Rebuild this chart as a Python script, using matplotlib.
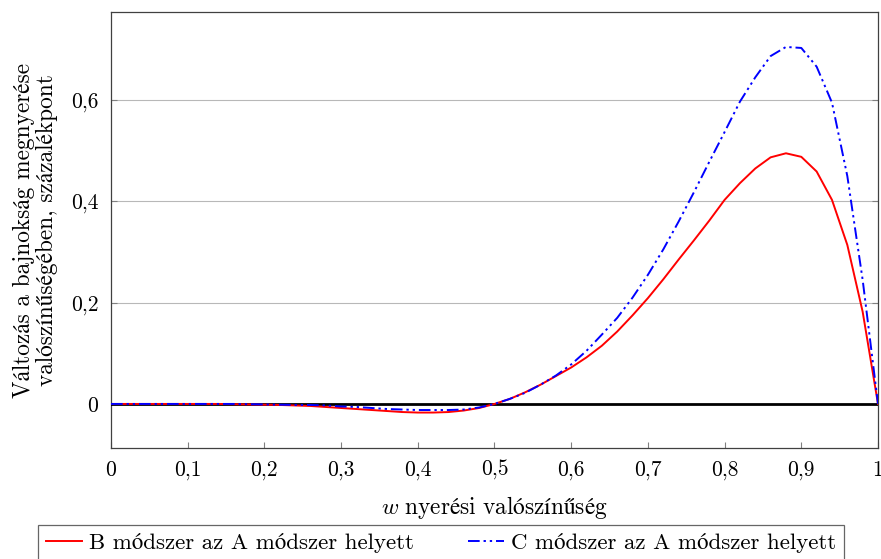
import matplotlib
matplotlib.use("Agg")
import matplotlib.pyplot as plt
from matplotlib.ticker import FixedLocator, FuncFormatter

plt.rcParams['font.family'] = ['cmr10', 'STIXGeneral']
plt.rcParams['mathtext.fontset'] = 'cm'
plt.rcParams['axes.unicode_minus'] = False

w = [0.00, 0.02, 0.04, 0.06, 0.08, 0.10, 0.12, 0.14, 0.16, 0.18,
     0.20, 0.22, 0.24, 0.26, 0.28, 0.30, 0.32, 0.34, 0.36, 0.38,
     0.40, 0.42, 0.44, 0.46, 0.48, 0.50, 0.52, 0.54, 0.56, 0.58,
     0.60, 0.62, 0.64, 0.66, 0.68, 0.70, 0.72, 0.74, 0.76, 0.78,
     0.80, 0.82, 0.84, 0.86, 0.88, 0.90, 0.92, 0.94, 0.96, 0.98, 1.00]

b_vs_a = [0.0, 0.0, 0.0, 0.0, 0.0, 0.0, 0.0, 0.0, -0.0005, -0.001,
          -0.0015, -0.002, -0.003, -0.004, -0.006, -0.008, -0.010, -0.012, -0.014, -0.016,
          -0.017, -0.017, -0.016, -0.013, -0.008, 0.0, 0.010, 0.023, 0.038, 0.055,
          0.072, 0.092, 0.115, 0.143, 0.175, 0.209, 0.246, 0.285, 0.323, 0.362,
          0.403, 0.436, 0.465, 0.487, 0.495, 0.488, 0.459, 0.403, 0.314, 0.182, 0.0]

c_vs_a = [0.0, 0.0, 0.0, 0.0, 0.0, 0.0, 0.0, 0.0, 0.0, -0.0005,
          -0.001, -0.0015, -0.002, -0.002, -0.003, -0.005, -0.006, -0.008, -0.010, -0.011,
          -0.012, -0.012, -0.012, -0.011, -0.007, 0.0, 0.010, 0.022, 0.038, 0.056,
          0.078, 0.105, 0.137, 0.170, 0.210, 0.255, 0.305, 0.360, 0.418, 0.478,
          0.537, 0.597, 0.645, 0.687, 0.705, 0.703, 0.666, 0.595, 0.450, 0.245, 0.0]

xticks = [0, 0.1, 0.2, 0.3, 0.4, 0.5, 0.6, 0.7, 0.8, 0.9, 1]
yticks = [0, 0.2, 0.4, 0.6]

labels = ['B módszer az A módszer helyett', 'C módszer az A módszer helyett']


def fmt(v, pos):
    if abs(v) < 1e-9:
        return '0'
    if abs(v - 1) < 1e-9:
        return '1'
    return ('%.1f' % v).replace('.', ',')


fig = plt.figure(figsize=(8.81, 5.59), dpi=100)
ax = fig.add_axes([111 / 881, 1 - 448 / 559, 767 / 881, 436 / 559])

ax.set_xlim(0, 1)
ax.set_ylim(-0.087, 0.774)

ax.yaxis.set_major_locator(FixedLocator(yticks))
ax.xaxis.set_major_locator(FixedLocator(xticks))
ax.xaxis.set_major_formatter(FuncFormatter(fmt))
ax.yaxis.set_major_formatter(FuncFormatter(fmt))
ax.grid(axis='y', color='#b8b8b8', linewidth=0.8)
ax.tick_params(axis='both', direction='in', length=4, color='#808080',
               labelsize=15.5, top=False, right=True)
ax.tick_params(axis='x', pad=9)
ax.tick_params(axis='y', pad=9)
for s in ax.spines.values():
    s.set_color('#404040')
    s.set_linewidth(0.9)

ax.axhline(0, color='black', linewidth=2, zorder=3)
ax.plot(w, b_vs_a, color='red', linewidth=1.4, zorder=4, label=labels[0])
ax.plot(w, c_vs_a, color='blue', linewidth=1.4, zorder=4,
        dashes=(6, 2, 1.2, 2, 1.2, 2), label=labels[1])

ax.set_xlabel(r'$w\ \mathrm{nyerési\ valószínűség}$', fontsize=16.8, labelpad=10)
ax.set_ylabel('Változás a bajnokság megnyerése\nvalószínűségében, százalékpont',
              fontsize=16.8, labelpad=9, linespacing=1.05)

h, l = ax.get_legend_handles_labels()
leg = fig.legend(h, l, loc='upper center',
                 bbox_to_anchor=(441 / 881, 1 - 525 / 559),
                 ncol=2, fontsize=16.5, frameon=True,
                 fancybox=False, edgecolor='#404040',
                 handlelength=1.6, handletextpad=0.3, columnspacing=2.35,
                 borderpad=0.35, borderaxespad=0)
leg.get_frame().set_linewidth(0.9)

fig.savefig('out.png', dpi=100)
